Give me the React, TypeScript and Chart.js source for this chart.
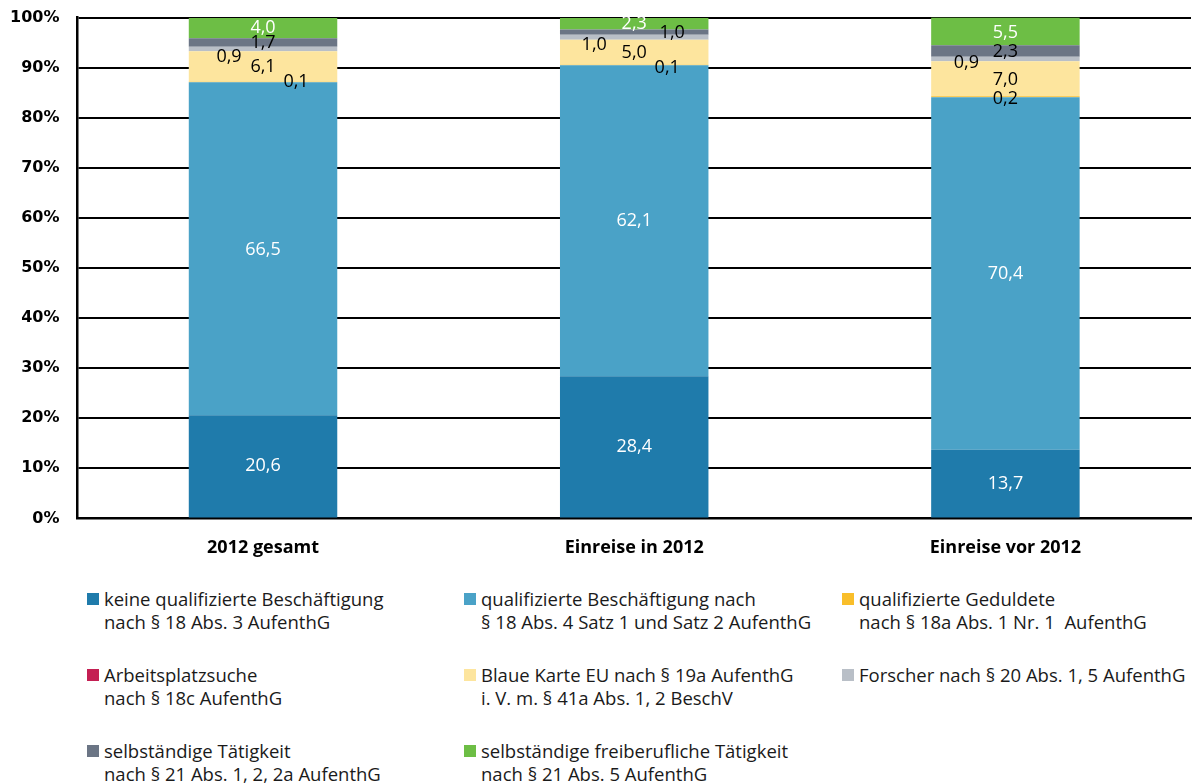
import React, { useEffect, useRef } from "react";
import { Chart, registerables } from "chart.js";

Chart.register(...registerables);

const categories = ["2012 gesamt", "Einreise in 2012", "Einreise vor 2012"];

const seriesNames = [
  "keine qualifizierte Beschäftigung",
  "qualifizierte Beschäftigung",
  "qualifizierte Geduldete",
  "Arbeitsplatzsuche",
  "Blaue Karte EU",
  "Forscher",
  "selbständige Tätigkeit",
  "selbständige freiberufliche Tätigkeit",
];

const keineQualifiziert = [20.6, 28.4, 13.7];
const qualifiziert = [66.5, 62.1, 70.4];
const geduldete = [0.1, 0.1, 0.2];
const arbeitsplatzsuche = [0, 0, 0];
const blaueKarte = [6.1, 5.0, 7.0];
const forscher = [0.9, 1.0, 0.9];
const selbstaendig = [1.7, 1.0, 2.3];
const freiberuflich = [4.0, 2.3, 5.5];

const seriesValues = [
  keineQualifiziert,
  qualifiziert,
  geduldete,
  arbeitsplatzsuche,
  blaueKarte,
  forscher,
  selbstaendig,
  freiberuflich,
];

const colors = [
  "#1f7bab",
  "#4aa2c7",
  "#f9be2a",
  "#c41f53",
  "#fde59e",
  "#b9bfc7",
  "#6b7585",
  "#6dbe45",
];

const labelColors = ["#fff", "#fff", "#000", "#000", "#000", "#000", "#000", "#fff"];

// label offsets [dx, dy] per series per category
const labelOffsets: number[][][] = [
  [[0, 0], [0, 0], [0, 0]],
  [[0, 1], [0, 0], [0, 0]],
  [[33, 0], [33, 3], [0, 2]],
  [[0, 0], [0, 0], [0, 0]],
  [[0, 0], [0, 1], [0, 1]],
  [[-34, 8], [-40, 8], [-39, 4]],
  [[0, 0], [38, 1], [0, 1]],
  [[0, 0], [0, 0], [0, 2]],
];

const yTicks = [0, 10, 20, 30, 40, 50, 60, 70, 80, 90, 100];

const legendItems = [
  { color: colors[0], lines: ["keine qualifizierte Beschäftigung", "nach § 18 Abs. 3 AufenthG"] },
  { color: colors[1], lines: ["qualifizierte Beschäftigung nach", "§ 18 Abs. 4 Satz 1 und Satz 2 AufenthG"] },
  { color: colors[2], lines: ["qualifizierte Geduldete", "nach § 18a Abs. 1 Nr. 1  AufenthG"] },
  { color: colors[3], lines: ["Arbeitsplatzsuche", "nach § 18c AufenthG"] },
  { color: colors[4], lines: ["Blaue Karte EU nach § 19a AufenthG", "i. V. m. § 41a Abs. 1, 2 BeschV"] },
  { color: colors[5], lines: ["Forscher nach § 20 Abs. 1, 5 AufenthG"] },
  { color: colors[6], lines: ["selbständige Tätigkeit", "nach § 21 Abs. 1, 2, 2a AufenthG"] },
  { color: colors[7], lines: ["selbständige freiberufliche Tätigkeit", "nach § 21 Abs. 5 AufenthG"] },
];

const legendColX = [87, 464, 842];
const legendRowY = [587, 663, 739];

const dataLabelPlugin = {
  id: "dataLabels",
  afterDatasetsDraw(chart: any) {
    const ctx = chart.ctx;
    ctx.save();
    ctx.font = "18px 'Open Sans'";
    ctx.textAlign = "center";
    ctx.textBaseline = "middle";
    chart.data.datasets.forEach((ds: any, di: number) => {
      const meta = chart.getDatasetMeta(di);
      meta.data.forEach((el: any, i: number) => {
        const v = ds.data[i];
        if (!v) return;
        const [dx, dy] = labelOffsets[di][i];
        const y = (el.y + el.base) / 2;
        ctx.fillStyle = labelColors[di];
        ctx.fillText(v.toFixed(1).replace(".", ","), el.x + dx, y + dy);
      });
    });
    ctx.restore();
  },
};

export default function App() {
  const canvasRef = useRef<HTMLCanvasElement>(null);

  useEffect(() => {
    const chart = new Chart(canvasRef.current!, {
      type: "bar",
      data: {
        labels: categories,
        datasets: seriesValues.map((vals, i) => ({
          label: seriesNames[i],
          data: vals,
          backgroundColor: colors[i],
          borderWidth: 0,
          barPercentage: 0.4,
          categoryPercentage: 1,
        })),
      },
      options: {
        animation: false,
        responsive: true,
        maintainAspectRatio: false,
        layout: { padding: { left: 0, right: 1, top: 1, bottom: 0 } },
        plugins: {
          legend: { display: false },
          tooltip: { enabled: false },
        },
        scales: {
          x: {
            stacked: true,
            grid: { display: false, drawTicks: false },
            border: { color: "#000", width: 2.5 },
            ticks: {
              color: "#000",
              padding: 19,
              font: { family: "'Open Sans'", size: 18, weight: "bold" },
            },
          },
          y: {
            stacked: true,
            min: 0,
            max: 100,
            afterBuildTicks(axis: any) {
              axis.ticks = yTicks.map((v) => ({ value: v }));
            },
            grid: { color: "#000", lineWidth: 2, drawTicks: false },
            border: { color: "#000", width: 2.5 },
            ticks: {
              color: "#000",
              padding: 18,
              font: { family: "'DejaVu Sans'", size: 16, weight: "bold" },
              callback: (v: any) => `${v}%`,
            },
          },
        },
      },
      plugins: [dataLabelPlugin],
    });
    return () => chart.destroy();
  }, []);

  return (
    <div style={{ position: "absolute", left: 0, top: 0, width: 1192, height: 784, background: "#fff", overflow: "hidden" }}>
      <div style={{ position: "absolute", left: -8, top: -10, width: 1200, height: 588 }}>
        <canvas ref={canvasRef} />
      </div>
      {legendItems.map((item, i) => {
        const col = i % 3;
        const row = Math.floor(i / 3);
        return (
          <div
            key={i}
            style={{
              position: "absolute",
              left: legendColX[col],
              top: legendRowY[row],
              display: "flex",
              alignItems: "flex-start",
              fontFamily: "'Open Sans'",
              fontSize: 18.5,
              lineHeight: "23px",
              color: "#1a1a1a",
              whiteSpace: "pre",
            }}
          >
            <div style={{ width: 12, height: 12, background: item.color, marginTop: 6, marginRight: 5 }} />
            <div>
              {item.lines.map((l, j) => (
                <div key={j}>{l}</div>
              ))}
            </div>
          </div>
        );
      })}
    </div>
  );
}
